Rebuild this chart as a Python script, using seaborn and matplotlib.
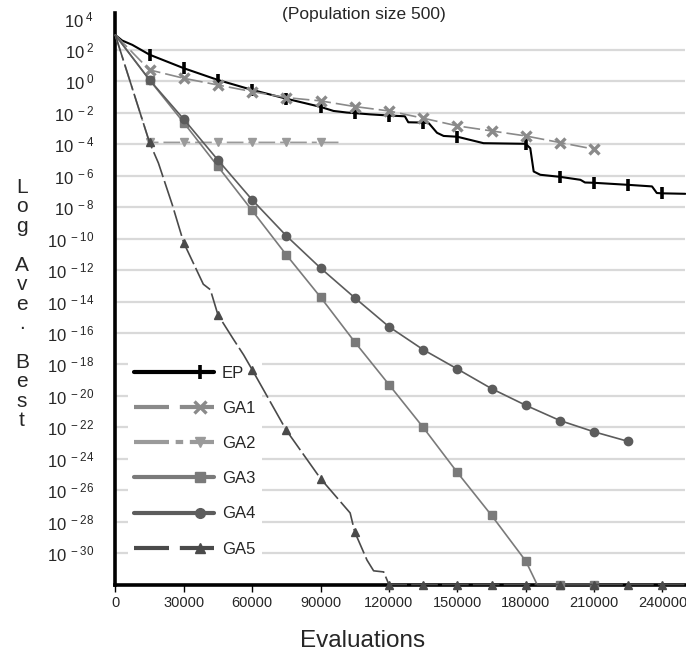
import numpy as np
import pandas as pd
import matplotlib
matplotlib.use("Agg")
import matplotlib.pyplot as plt
import matplotlib.ticker as mticker
import seaborn as sns
from matplotlib.lines import Line2D
from matplotlib.legend_handler import HandlerLine2D

# ===========================================================
#        DATA  (x = evaluations, y = log10 of ave. best)
# ===========================================================

ep_x = [0, 3000, 7500, 15000, 30000, 45000, 60000, 75000, 90000, 95700, 101500,
        105000, 112000, 120000, 127000, 128500, 135000, 137500, 141100, 144000,
        150000, 161500, 180000, 182000, 183500, 186400, 195000, 204000, 206000,
        210000, 225000, 235400, 237500, 240000, 250000]
ep_y = [2.95, 2.6, 2.32, 1.7, 0.84, 0.09, -0.54, -1.1, -1.62, -1.88, -1.98,
        -2.02, -2.1, -2.17, -2.22, -2.6, -2.62, -2.66, -3.27, -3.47,
        -3.52, -3.93, -3.97, -4.25, -5.73, -5.94, -6.07, -6.26, -6.43,
        -6.45, -6.58, -6.68, -7.1, -7.12, -7.15]

ga1_x = [0, 15000, 30000, 45000, 60000, 75000, 90000, 105000, 120000, 135000,
         150000, 165000, 180000, 195000, 210000]
ga1_y = [2.95, 0.73, 0.2, -0.23, -0.65, -1.03, -1.24, -1.6, -1.88, -2.34,
         -2.83, -3.15, -3.47, -3.89, -4.31]

ga2_x = [0, 15000, 30000, 45000, 60000, 75000, 90000, 100000]
ga2_y = [2.95, -3.88, -3.88, -3.88, -3.88, -3.88, -3.88, -3.88]

ga3_x = [0, 15000, 30000, 45000, 60000, 75000, 90000, 105000, 120000, 135000,
         150000, 165000, 180000, 185000, 195000, 210000]
ga3_y = [2.95, 0.09, -2.62, -5.41, -8.21, -11.03, -13.72, -16.57, -19.28, -22.0,
         -24.87, -27.6, -30.5, -32.0, -32.0, -32.0]

ga4_x = [0, 15000, 30000, 45000, 60000, 75000, 90000, 105000, 120000, 135000,
         150000, 165000, 180000, 195000, 210000, 225000]
ga4_y = [2.95, 0.1, -2.4, -5.0, -7.53, -9.82, -11.87, -13.76, -15.6, -17.06,
         -18.29, -19.54, -20.6, -21.57, -22.29, -22.9]

ga5_x = [0, 15000, 18900, 25000, 30000, 38600, 41700, 45000, 51800, 56300, 60000,
         75000, 90000, 103000, 105000, 110400, 113300, 117700, 120000, 135000,
         150000, 165000, 180000, 195000, 210000, 225000, 240000, 250000]
ga5_y = [2.95, -3.88, -5.19, -7.85, -10.26, -12.9, -13.25, -14.84, -16.4, -17.4, -18.33,
         -22.19, -25.26, -27.45, -28.65, -30.45, -31.13, -31.2, -32.0, -32.0,
         -32.0, -32.0, -32.0, -32.0, -32.0, -32.0, -32.0, -32.0]

names = ["EP", "GA1", "GA2", "GA3", "GA4", "GA5"]
xs_all = [ep_x, ga1_x, ga2_x, ga3_x, ga4_x, ga5_x]
ys_all = [ep_y, ga1_y, ga2_y, ga3_y, ga4_y, ga5_y]
x_ticks = list(range(0, 240001, 30000))
y_exps = list(range(4, -31, -2))

# ===========================================================
#                       STYLES
# ===========================================================

styles = {
    "EP":  dict(color="#000000", lw=1.5, ls="-", leg_ls="-",
                marker="|", ms=9, mew=2.6),
    "GA1": dict(color="#8a8a8a", lw=1.2, ls=(0, (10, 3)), leg_ls=(0, (8.4, 2.6)),
                marker="x", ms=7, mew=2.4),
    "GA2": dict(color="#9a9a9a", lw=1.2, ls=(0, (10, 3, 3, 3)), leg_ls=(0, (8.4, 1.6, 1.8, 1.6)),
                marker="v", ms=6, mew=1),
    "GA3": dict(color="#7a7a7a", lw=1.2, ls="-", leg_ls="-",
                marker="s", ms=5.5, mew=1),
    "GA4": dict(color="#5c5c5c", lw=1.2, ls="-", leg_ls="-",
                marker="o", ms=6, mew=1),
    "GA5": dict(color="#4a4a4a", lw=1.2, ls=(0, (16, 2.5)), leg_ls=(0, (8.4, 2.6)),
                marker="^", ms=5.5, mew=1),
}

sns.set_theme(style="white")
plt.rcParams["font.family"] = ["Liberation Sans", "DejaVu Sans"]
plt.rcParams["mathtext.fontset"] = "custom"
plt.rcParams["mathtext.rm"] = "Liberation Sans"
plt.rcParams["mathtext.it"] = "Liberation Sans:italic"
plt.rcParams["mathtext.bf"] = "Liberation Sans:bold"


class RightMarker(HandlerLine2D):
    # line over the full handle, single marker near its right end
    def create_artists(self, legend, orig_handle, xdescent, ydescent,
                       width, height, fontsize, trans):
        y = (height - ydescent) / 2
        x0, x1 = -xdescent, -xdescent + width
        line = Line2D([x0, x1], [y, y])
        self.update_prop(line, orig_handle, legend)
        line.set_marker("None")
        mk = Line2D([x0 + 0.82 * (x1 - x0)], [y])
        self.update_prop(mk, orig_handle, legend)
        mk.set_linestyle("None")
        line.set_transform(trans)
        mk.set_transform(trans)
        return [line, mk]


fig = plt.figure(figsize=(6.86, 6.59), dpi=100)
ax = fig.add_axes([115.3 / 686, 1 - 584.5 / 659, 570 / 686, 571.5 / 659])

for name, xs, ys in zip(names, xs_all, ys_all):
    st = styles[name]
    df = pd.DataFrame({"evals": xs, "best": np.power(10.0, ys)})
    marks = [i for i, v in enumerate(xs) if v > 0 and v % 15000 == 0]
    sns.lineplot(data=df, x="evals", y="best", ax=ax, color=st["color"],
                 linewidth=st["lw"], linestyle=st["ls"], marker=st["marker"],
                 markersize=st["ms"], markeredgewidth=st["mew"],
                 markeredgecolor=st["color"], markerfacecolor=st["color"],
                 markevery=marks, errorbar=None, legend=False,
                 zorder=3, clip_on=False)

ax.set_yscale("log")
ax.set_xlim(0, 250000)
ax.set_ylim(1e-32, 10 ** 4.35)
ax.set_yticks([10.0 ** e for e in y_exps])
ax.set_yticklabels([r"$\mathregular{10^{\ %d}}$" % e for e in y_exps])
ax.yaxis.set_minor_locator(mticker.NullLocator())
ax.set_xticks(x_ticks)
ax.set_xticklabels([str(v) for v in x_ticks])
ax.set_xlabel("")
ax.set_ylabel("")

ax.tick_params(axis="x", length=5, width=1, direction="out", color="black",
               labelsize=10.5, pad=3, bottom=True)
ax.tick_params(axis="y", length=0, labelsize=12, pad=15)

for s in ["top", "right"]:
    ax.spines[s].set_visible(False)
for s in ["left", "bottom"]:
    ax.spines[s].set_linewidth(2.6)
    ax.spines[s].set_color("black")

ax.yaxis.grid(True, color="#d9d9d9", lw=1.6)
ax.xaxis.grid(False)
ax.set_axisbelow(True)
ax.yaxis.get_major_ticks()[0].gridline.set_visible(False)

handles = []
for name in names:
    st = styles[name]
    handles.append(Line2D([], [], color=st["color"], lw=3, ls=st["leg_ls"],
                          marker=st["marker"], ms=st["ms"] + 1, mew=st["mew"],
                          mec=st["color"], mfc=st["color"]))
leg = ax.legend(handles, names, handler_map={Line2D: RightMarker()},
                loc="upper left", bbox_to_anchor=(0.007, 0.409), frameon=True,
                fontsize=12, handlelength=4.8, handletextpad=0.45,
                labelspacing=1.21, borderpad=0.4, fancybox=False, framealpha=1)
leg.get_frame().set_edgecolor("none")
leg.get_frame().set_facecolor("white")
leg.set_zorder(1.8)

fig.text(364 / 686, 1 - 14 / 659, "(Population size 500)", fontsize=12.5,
         ha="center", va="center")
fig.text(363 / 686, 1 - 641 / 659, "Evaluations", fontsize=17.5,
         ha="center", va="center")
fig.text(22 / 686, 1 - 304 / 659, "L\no\ng\n\nA\nv\ne\n.\n\nB\ne\ns\nt",
         fontsize=15, ha="center", va="center", multialignment="center",
         linespacing=1.03)

fig.savefig("out.png", dpi=100)
